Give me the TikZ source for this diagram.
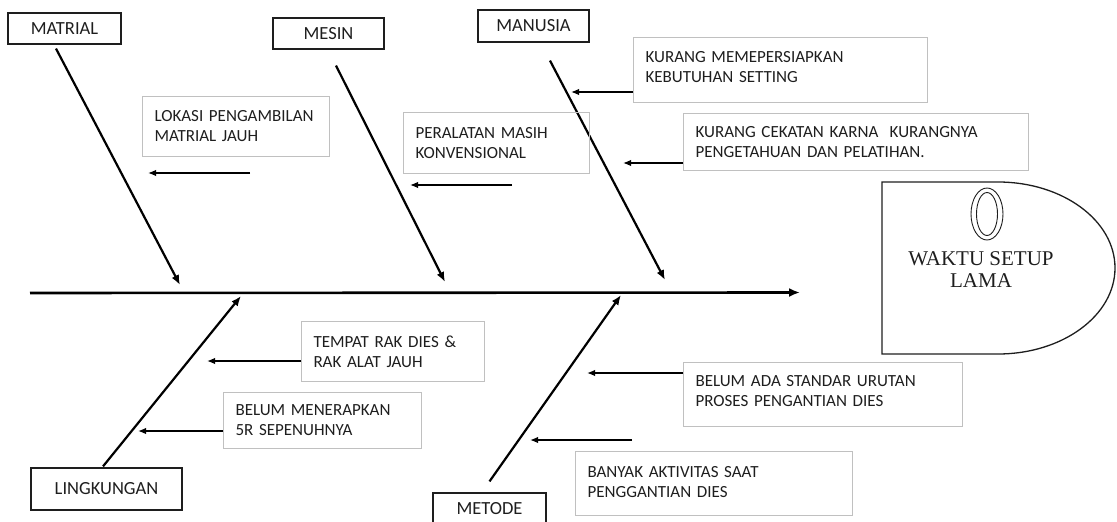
\documentclass[tikz,border=0pt]{standalone}
\usepackage{fontspec}
\setmainfont{Carlito}
\newfontfamily\headfont{Liberation Serif}
\usepackage{tikz}
\usetikzlibrary{arrows.meta,positioning}
\definecolor{ink}{RGB}{30,30,30}
\definecolor{boxgray}{RGB}{192,192,192}
\tikzset{
  catbox/.style={draw=ink,line width=1.2pt,inner sep=0pt,font=\fontsize{18.5}{22}\selectfont},
  cause/.style={draw=boxgray,line width=1pt,anchor=north west,align=left,
    inner xsep=12pt,inner ysep=0pt,font=\fontsize{17}{20}\selectfont},
  bone/.style={line width=2.2pt,-{Latex[length=10pt,width=8pt]}},
  spine/.style={line width=2.6pt,-{Latex[length=11pt,width=9pt]}},
  causearrow/.style={line width=1.5pt,-{Latex[length=8pt,width=6.5pt]}},
  every node/.style={text=ink}
}

\begin{document}
\begin{tikzpicture}[x=1pt,y=-1pt]
  \useasboundingbox (0,0) rectangle (1117,522);
  % head
  \draw[ink,line width=1.3pt] (998,182)
    .. controls (1062.6,182) and (1115,220.5) .. (1115,268)
    .. controls (1115,315.5) and (1062.6,354) .. (998,354)
    -- (882,354) -- (882,182) -- cycle;
  \draw[ink,line width=0.9pt] (987,214) ellipse [x radius=16,y radius=26];
  \draw[ink,line width=0.9pt] (987,214) ellipse [x radius=10.5,y radius=21.5];
  \node[font=\headfont\fontsize{21}{22}\selectfont,align=center,inner sep=0pt]
    (effect) at (981,270) {WAKTU SETUP\\LAMA};
  % spine
  \coordinate (tail) at (30,293);
  \coordinate (head) at (800,292.5);
  \draw[spine] (tail) -- (head);
  % categories
  \node[catbox,minimum width=113pt,minimum height=31pt] (matrial) at (64.5,28.5) {MATRIAL};
  \node[catbox,minimum width=111pt,minimum height=31pt] (mesin) at (328.5,33.5) {MESIN};
  \node[catbox,minimum width=111pt,minimum height=32pt] (manusia) at (533.5,26) {MANUSIA};
  \node[catbox,minimum width=151pt,minimum height=42pt] (lingkungan) at (106.5,489) {LINGKUNGAN};
  \node[catbox,minimum width=113pt,minimum height=32pt] (metode) at (489.5,509) {METODE};
  \coordinate (jm) at (180,285);
  \coordinate (js) at (445,282);
  \coordinate (jn) at (665,280);
  \coordinate (jl) at (241,296);
  \coordinate (jt) at (621,295);
  \draw[bone] ([xshift=-8.5pt,yshift=-4pt]matrial.south) -- (jm);
  \draw[bone] ([xshift=7.5pt,yshift=-16pt]mesin.south) -- (js);
  \draw[bone] ([xshift=16.5pt,yshift=-18pt]manusia.south) -- (jn);
  \draw[bone] ([xshift=-3.5pt,yshift=1pt]lingkungan.north) -- (jl);
  \draw[bone] ([yshift=11pt]metode.north) -- (jt);
  % causes
  \node[cause,text width=163pt,minimum height=60pt] (c1) at (142,96)
    {LOKASI PENGAMBILAN\\MATRIAL JAUH};
  \node[cause,text width=162pt,minimum height=61pt] (c2) at (403,112)
    {PERALATAN MASIH\\KONVENSIONAL};
  \node[cause,text width=270pt,minimum height=65pt,text depth=27pt] (c3) at (633,37)
    {KURANG MEMEPERSIAPKAN\\KEBUTUHAN SETTING};
  \node[cause,text width=321pt,minimum height=57pt] (c4) at (683,113)
    {KURANG CEKATAN KARNA\ \ KURANGNYA\\PENGETAHUAN DAN PELATIHAN.};
  \node[cause,text width=159pt,minimum height=60pt] (c5) at (301,321)
    {TEMPAT RAK DIES \&\\RAK ALAT JAUH};
  \node[cause,text width=174pt,minimum height=56pt] (c6) at (223,392)
    {BELUM MENERAPKAN\\5R SEPENUHNYA};
  \node[cause,text width=255pt,minimum height=64pt,text depth=27pt] (c7) at (683,362)
    {BELUM ADA STANDAR URUTAN\\PROSES PENGANTIAN DIES};
  \node[cause,text width=253pt,minimum height=64pt,text depth=23pt] (c8) at (575,451)
    {BANYAK AKTIVITAS SAAT\\PENGGANTIAN DIES};
  \coordinate (s1) at (250,173);
  \coordinate (t1) at (148,173);
  \coordinate (s2) at (512,185);
  \coordinate (t2) at (410,185);
  \coordinate (t3) at (571,92);
  \coordinate (t4) at (623,163);
  \coordinate (t5) at (207,361);
  \coordinate (t6) at (138,431);
  \coordinate (t7) at (587,373);
  \coordinate (s8) at (632,440);
  \coordinate (t8) at (530,440);
  \draw[causearrow] (s1) -- (t1);
  \draw[causearrow] (s2) -- (t2);
  \draw[causearrow] (c3.west |- t3) -- (t3);
  \draw[causearrow] (c4.west |- t4) -- (t4);
  \draw[causearrow] (c5.west |- t5) -- (t5);
  \draw[causearrow] (c6.west |- t6) -- (t6);
  \draw[causearrow] (c7.west |- t7) -- (t7);
  \draw[causearrow] (s8) -- (t8);
\end{tikzpicture}
\end{document}
